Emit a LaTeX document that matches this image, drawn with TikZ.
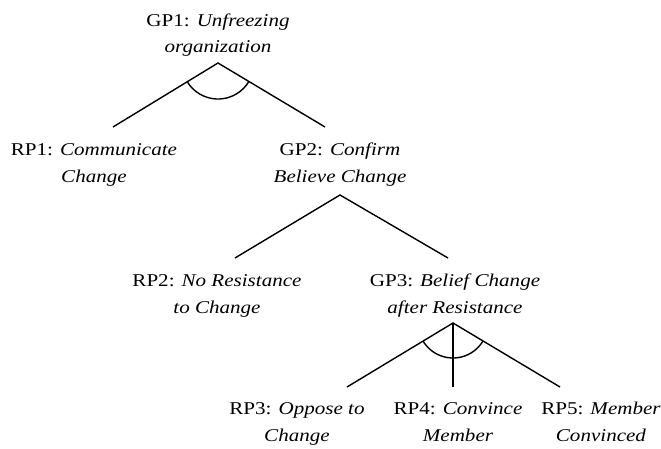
\documentclass[tikz,border=0pt]{standalone}
\usepackage{fontspec}
\setmainfont{Liberation Serif}[FakeStretch=1.17]
\begin{document}
\begin{tikzpicture}[x=1pt,y=1pt,
  lbl/.style={align=center, inner sep=0pt, anchor=base, font=\fontsize{18}{26.5}\selectfont},
  link/.style={line width=1.4pt},
  andarc/.style={line width=1.4pt}]
\useasboundingbox (0,0) rectangle (661,448);
% labels (anchor = baseline of last line)
\node[lbl] (gp1) at (218,395) {GP1: \textit{Unfreezing}\\\textit{organization}};
\node[lbl] (rp1) at (94,266) {RP1: \textit{Communicate}\\\textit{Change}};
\node[lbl] (gp2) at (340,266) {GP2: \textit{Confirm}\\\textit{Believe Change}};
\node[lbl] (rp2) at (217,135) {RP2: \textit{No Resistance}\\\textit{to Change}};
\node[lbl] (gp3) at (455,135) {GP3: \textit{Belief Change}\\\textit{after Resistance}};
\node[lbl] (rp3) at (297,7) {RP3: \textit{Oppose to}\\\textit{Change}};
\node[lbl] (rp4) at (458,7) {RP4: \textit{Convince}\\\textit{Member}};
\node[lbl] (rp5) at (601,7) {RP5: \textit{Member}\\\textit{Convinced}};
% connector points
\coordinate (gp1a) at (218,385);
\coordinate (rp1t) at (113,321);
\coordinate (gp2t) at (325,321);
\coordinate (gp2a) at (340,253);
\coordinate (rp2t) at (235,190);
\coordinate (gp3t) at (448,190);
\coordinate (gp3a) at (453,125);
\coordinate (rp3t) at (347,61);
\coordinate (rp4t) at (453,61);
\coordinate (rp5t) at (560,61);
% links
\draw[link] (rp1t) -- (gp1a) -- (gp2t);
\draw[link] (rp2t) -- (gp2a) -- (gp3t);
\draw[link] (rp3t) -- (gp3a) -- (rp5t);
\draw[link] (gp3a) -- (rp4t);
% and-decomposition arcs
\draw[andarc] (gp1a) ++(211:36) arc[start angle=211, end angle=329, radius=36];
\draw[andarc] (gp3a) ++(211:35) arc[start angle=211, end angle=329, radius=35];
\end{tikzpicture}
\end{document}
